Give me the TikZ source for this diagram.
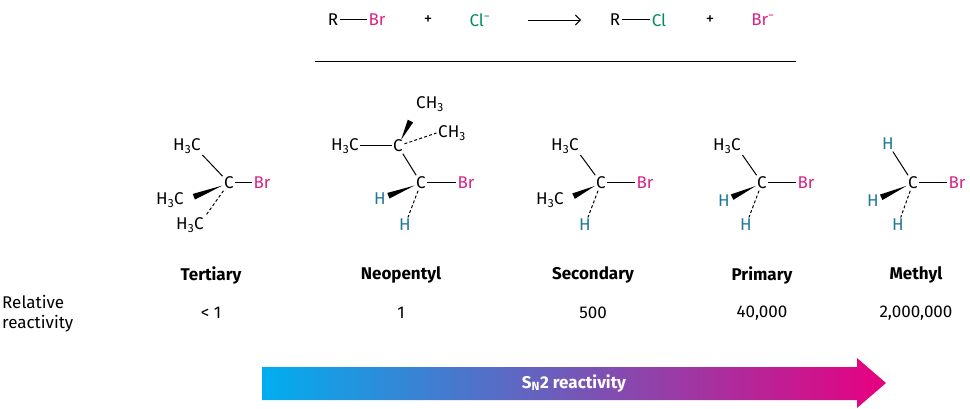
\documentclass[tikz,border=0pt]{standalone}
\usepackage{fontspec}
\setmainfont{Fira Sans}
\usetikzlibrary{calc,arrows.meta,shadings}
\definecolor{brc}{RGB}{214,35,135}
\definecolor{clc}{RGB}{0,140,95}
\definecolor{hc}{RGB}{30,120,150}
\definecolor{cyanc}{RGB}{0,174,239}
\definecolor{pinkc}{RGB}{232,0,128}
\newcommand\wedgebond[2]{\path ($(#1)!7pt!(#2)$) coordinate (wA) ($(#2)!9pt!(#1)$) coordinate (wB); \fill (wA) -- ($(wB)!3pt!90:(wA)$) -- ($(wB)!3pt!-90:(wA)$) -- cycle;}
\begin{document}
\begin{tikzpicture}[x=1pt,y=-1pt,font=\fontsize{17}{20}\selectfont,
  atm/.style={inner sep=1.5pt},
  bnd/.style={line width=1pt},
  hb/.style={line width=1pt,dash pattern=on 3pt off 2.2pt},
  br/.style={text=brc,inner sep=1.5pt},
  hh/.style={text=hc,inner sep=1.5pt},
  lbl/.style={font=\fontsize{17}{20}\selectfont\bfseries}]
\useasboundingbox (0,0) rectangle (970,409);
% equation
\node[atm] (r1) at (333,20) {R};
\node[br] (b1) at (377,20) {Br};
\node (p1) at (428,20) {+};
\node[text=clc] (cl1) at (480,20) {Cl\textsuperscript{−}};
\coordinate (a1) at (528,20); \coordinate (a2) at (581,20);
\node[atm] (r2) at (615,20) {R};
\node[text=clc,inner sep=1.5pt] (cl2) at (659,20) {Cl};
\node (p2) at (710,20) {+};
\node[text=brc] (br2) at (763,20) {Br\textsuperscript{−}};
\draw[bnd] (r1) -- (b1); \draw[bnd] (r2) -- (cl2);
\draw[line width=0.9pt,-{Straight Barb[length=5pt]}] (a1) -- (a2);
\coordinate (l1) at (315,62); \coordinate (l2) at (796,62);
\draw[line width=1pt] (l1) -- (l2);
% tertiary
\node[atm] (tc) at (229,183) {C};
\node[br] (tbr) at (262,183) {Br};
\node[atm] (tm1) at (187,146) {H\textsubscript{3}C};
\node[atm] (tm2) at (170,200) {H\textsubscript{3}C};
\node[atm] (tm3) at (190,225) {H\textsubscript{3}C};
\draw[bnd] (tc) -- (tbr); \draw[bnd] (tc) -- (tm1.south east);
\wedgebond{tc}{tm2.east}
\draw[hb] (tc) -- (tm3.north east);
% neopentyl
\node[atm] (nc1) at (398,146) {C};
\node[atm] (nm1) at (345,146) {H\textsubscript{3}C};
\node[atm] (nm2) at (430,104) {CH\textsubscript{3}};
\node[atm] (nm3) at (452,133) {CH\textsubscript{3}};
\node[atm] (nc2) at (421,183) {C};
\node[br] (nbr) at (466,183) {Br};
\node[hh] (nh1) at (380,199) {H};
\node[hh] (nh2) at (405,225) {H};
\draw[bnd] (nc1) -- (nm1); \wedgebond{nc1}{nm2.south west}
\draw[hb] (nc1) -- (nm3.west); \draw[bnd] (nc1) -- (nc2); \draw[bnd] (nc2) -- (nbr);
\wedgebond{nc2}{nh1} \draw[hb] (nc2) -- (nh2);
% secondary
\node[atm] (sc) at (601,183) {C};
\node[br] (sbr) at (645,183) {Br};
\node[atm] (sm1) at (565,146) {H\textsubscript{3}C};
\node[atm] (sm2) at (550,200) {H\textsubscript{3}C};
\node[hh] (sh) at (585,225) {H};
\draw[bnd] (sc) -- (sbr); \draw[bnd] (sc) -- (sm1.south east);
\wedgebond{sc}{sm2.east} \draw[hb] (sc) -- (sh);
% primary
\node[atm] (pc) at (762,183) {C};
\node[br] (pbr) at (806,183) {Br};
\node[atm] (pm1) at (727,146) {H\textsubscript{3}C};
\node[hh] (ph1) at (724,201) {H};
\node[hh] (ph2) at (746,225) {H};
\draw[bnd] (pc) -- (pbr); \draw[bnd] (pc) -- (pm1.south east);
\wedgebond{pc}{ph1} \draw[hb] (pc) -- (ph2);
% methyl
\node[atm] (mc) at (913,183) {C};
\node[br] (mbr) at (957,183) {Br};
\node[hh] (mh0) at (888,144) {H};
\node[hh] (mh1) at (873,201) {H};
\node[hh] (mh2) at (898,225) {H};
\draw[bnd] (mc) -- (mbr); \draw[bnd] (mc) -- (mh0);
\wedgebond{mc}{mh1} \draw[hb] (mc) -- (mh2);
% labels
\node[lbl] (L1) at (211,275) {Tertiary};
\node[lbl] (L2) at (401,275) {Neopentyl};
\node[lbl] (L3) at (593,275) {Secondary};
\node[lbl] (L4) at (762,275) {Primary};
\node[lbl] (L5) at (916,275) {Methyl};
\node (V1) at (211,313) {< 1};
\node (V2) at (401,313) {1};
\node (V3) at (593,313) {500};
\node (V4) at (762,313) {40,000};
\node (V5) at (916,313) {2,000,000};
\node[anchor=west,align=left,inner sep=0pt] (RR) at (2,314) {Relative\\reactivity};
% gradient arrow
\shade[left color=cyanc,right color=pinkc] (262,367) -- (857,367) -- (857,358) -- (886,383) -- (857,408) -- (857,400) -- (262,400) -- cycle;
\node[text=white,font=\fontsize{17}{20}\selectfont\bfseries] (SN) at (574,383) {S\textsubscript{N}2 reactivity};
\end{tikzpicture}
\end{document}
